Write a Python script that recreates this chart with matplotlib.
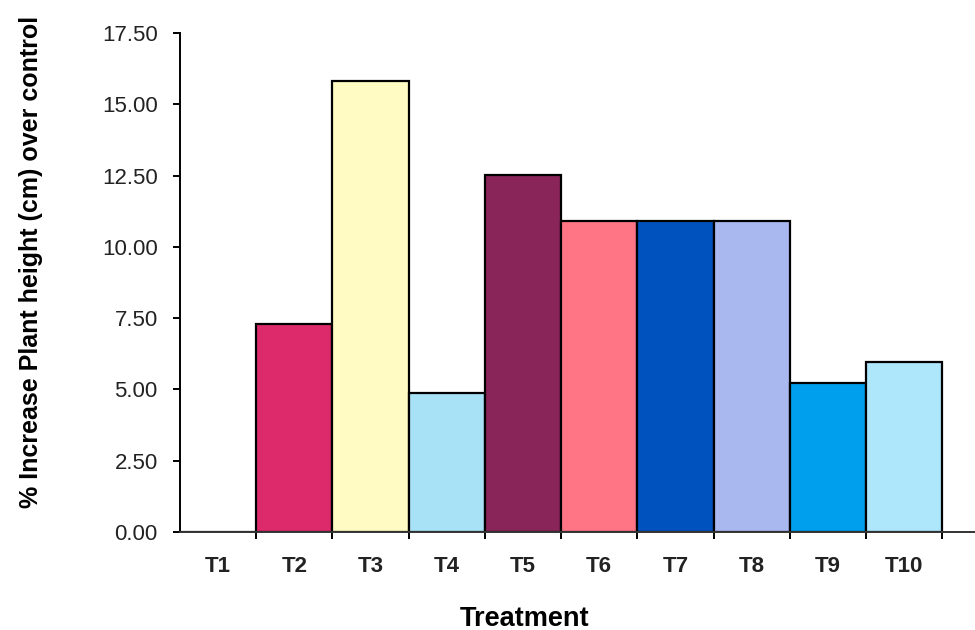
import matplotlib
matplotlib.use("Agg")
import matplotlib.pyplot as plt
from matplotlib.ticker import FormatStrFormatter

treatments = ["T1", "T2", "T3", "T4", "T5", "T6", "T7", "T8", "T9", "T10"]
increase = [0.0, 7.30, 15.82, 4.88, 12.53, 10.91, 10.91, 10.91, 5.23, 5.96]
colors = ["#FFFFFF", "#DC2A6A", "#FFFBC2", "#A8E2F6", "#8A2559",
          "#FF7585", "#0052BE", "#AAB8F0", "#009FEE", "#AEE6FB"]
yticks = [0.0, 2.5, 5.0, 7.5, 10.0, 12.5, 15.0, 17.5]

plt.rcParams["font.family"] = ["Liberation Sans", "DejaVu Sans"]

fig = plt.figure(figsize=(9.75, 6.3), dpi=100)
ax = fig.add_axes([0.1846, 0.1556, 0.8154, 0.792])

x = list(range(len(treatments)))
ax.bar(x, increase, width=1.0, color=colors, edgecolor="black", linewidth=1.6)

ax.set_xlim(-0.5, 9.93)
ax.set_ylim(0, 17.5)
ax.set_yticks(yticks)
ax.yaxis.set_major_formatter(FormatStrFormatter("%.2f"))
ax.set_xticks(x)
ax.set_xticklabels(treatments, fontsize=16, fontweight="bold", color="#222222")
ax.set_xticks([i + 0.5 for i in range(len(treatments))], minor=True)
ax.tick_params(axis="x", which="major", length=0, pad=17)
ax.tick_params(axis="x", which="minor", length=5, width=1.4, direction="out")
ax.tick_params(axis="y", length=5, width=1.4, direction="out", labelsize=16,
               labelcolor="#222222", pad=11)

for side in ("top", "right"):
    ax.spines[side].set_visible(False)
ax.spines["left"].set_linewidth(1.4)
ax.spines["bottom"].set_linewidth(1.4)
ax.spines["bottom"].set_color("#333333")

ax.set_xlabel("Treatment", fontsize=19.5, fontweight="bold", va="center")
ax.xaxis.set_label_coords(0.434, -0.174)
ax.set_ylabel("% Increase Plant height (cm) over control", fontsize=18,
              fontweight="bold", va="center")
ax.yaxis.set_label_coords(-0.188, 0.541)

fig.savefig("out.png", dpi=100)
